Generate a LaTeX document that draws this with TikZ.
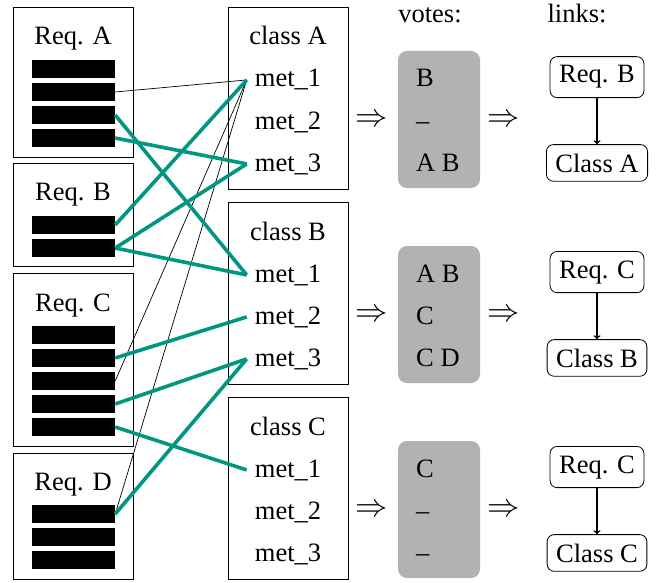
\documentclass[tikz,border=0pt]{standalone}
\usepackage{fontspec}
\setmainfont{Liberation Serif}
\definecolor{tracegreen}{RGB}{0,150,130}
\newcommand{\impl}{\scalebox{1.3}{$\Rightarrow$}}

\begin{document}
\begin{tikzpicture}[x=1pt,y=-1pt,
    font=\fontsize{26.5}{32}\selectfont,
    box/.style={draw,line width=0.8pt},
    bar/.style={fill=black,minimum width=83pt,minimum height=18pt,inner sep=0pt},
    title/.style={anchor=base},
    met/.style={anchor=base,inner xsep=8pt},
    vote/.style={anchor=base west,inner sep=0pt},
    votebox/.style={fill=black!30,rounded corners=9pt,minimum width=82pt,minimum height=137pt},
    linknode/.style={draw,rounded corners=7pt,line width=0.8pt,inner xsep=9pt,inner ysep=9pt,anchor=base},
    strong/.style={tracegreen,line width=3.6pt},
    weak/.style={line width=0.7pt}]
    \useasboundingbox (0,0) rectangle (658,583);

    \node[box,minimum width=120pt,minimum height=150pt] (reqA) at (73,82) {};
    \node[title] (tA) at (73,45) {Req. A};
    \foreach \i in {1,...,4} \node[bar] (a\i) at (73.5,46+23*\i) {};

    \node[box,minimum width=120pt,minimum height=103pt] (reqB) at (73,214.5) {};
    \node[title] (tB) at (73,200) {Req. B};
    \foreach \i in {1,2} \node[bar] (b\i) at (73.5,202+23*\i) {};

    \node[box,minimum width=120pt,minimum height=173pt] (reqC) at (73,359.5) {};
    \node[title] (tC) at (73,311) {Req. C};
    \foreach \i in {1,...,5} \node[bar] (c\i) at (73.5,312+23*\i) {};

    \node[box,minimum width=120pt,minimum height=126pt] (reqD) at (73,516) {};
    \node[title] (tD) at (73,490) {Req. D};
    \foreach \i in {1,2,3} \node[bar] (d\i) at (73.5,491+23*\i) {};

    \foreach \g/\c [evaluate=\g as \dy using 195*(\g-1)] in {1/A,2/B,3/C} {
      \node[box,minimum width=120pt,minimum height=182pt] (class\c) at (288,98+\dy) {};
      \node[title] (ct\c) at (288,45+\dy) {class \c};
      \foreach \m in {1,2,3} \node[met] (m\c\m) at (288,45+42*\m+\dy) {met\_\m};
      \node (in\c) at (372,121+\dy) {\impl};
      \node[votebox] (votes\c) at (439,119.5+\dy) {};
      \node (out\c) at (504,121+\dy) {\impl};
    }

    \node[title] (hvotes) at (430,23) {votes:};
    \node[title] (hlinks) at (577,23) {links:};

    \node[vote] (vA1) at (416,87) {B};
    \node[vote] (vA2) at (416,129) {–};
    \node[vote] (vA3) at (416,171) {A B};
    \node[vote] (vB1) at (416,282) {A B};
    \node[vote] (vB2) at (416,324) {C};
    \node[vote] (vB3) at (416,366) {C D};
    \node[vote] (vC1) at (416,477) {C};
    \node[vote] (vC2) at (416,519) {–};
    \node[vote] (vC3) at (416,561) {–};

    \node[linknode] (lreqA) at (597,83) {Req. B};
    \node[linknode] (lclsA) at (597,172) {Class A};
    \node[linknode] (lreqB) at (597,278) {Req. C};
    \node[linknode] (lclsB) at (597,367) {Class B};
    \node[linknode] (lreqC) at (597,473) {Req. C};
    \node[linknode] (lclsC) at (597,562) {Class C};
    \draw[->,line width=1.5pt] (lreqA) -- (lclsA);
    \draw[->,line width=1.5pt] (lreqB) -- (lclsB);
    \draw[->,line width=1.5pt] (lreqC) -- (lclsC);

    \draw[weak] (a2.east) -- (mA1.west);
    \draw[weak] (c3.east) -- (mA1.west);
    \draw[weak] (d1.east) -- (mA1.west);
    \draw[strong] (a3.east) -- (mB1.west);
    \draw[strong] (a4.east) -- (mA3.west);
    \draw[strong] (b1.east) -- (mA1.west);
    \draw[strong] (b2.east) -- (mA3.west);
    \draw[strong] (b2.east) -- (mB1.west);
    \draw[strong] (c2.east) -- (mB2.west);
    \draw[strong] (c4.east) -- (mB3.west);
    \draw[strong] (c5.east) -- (mC1.west);
    \draw[strong] (d1.east) -- (mB3.west);
\end{tikzpicture}
\end{document}
